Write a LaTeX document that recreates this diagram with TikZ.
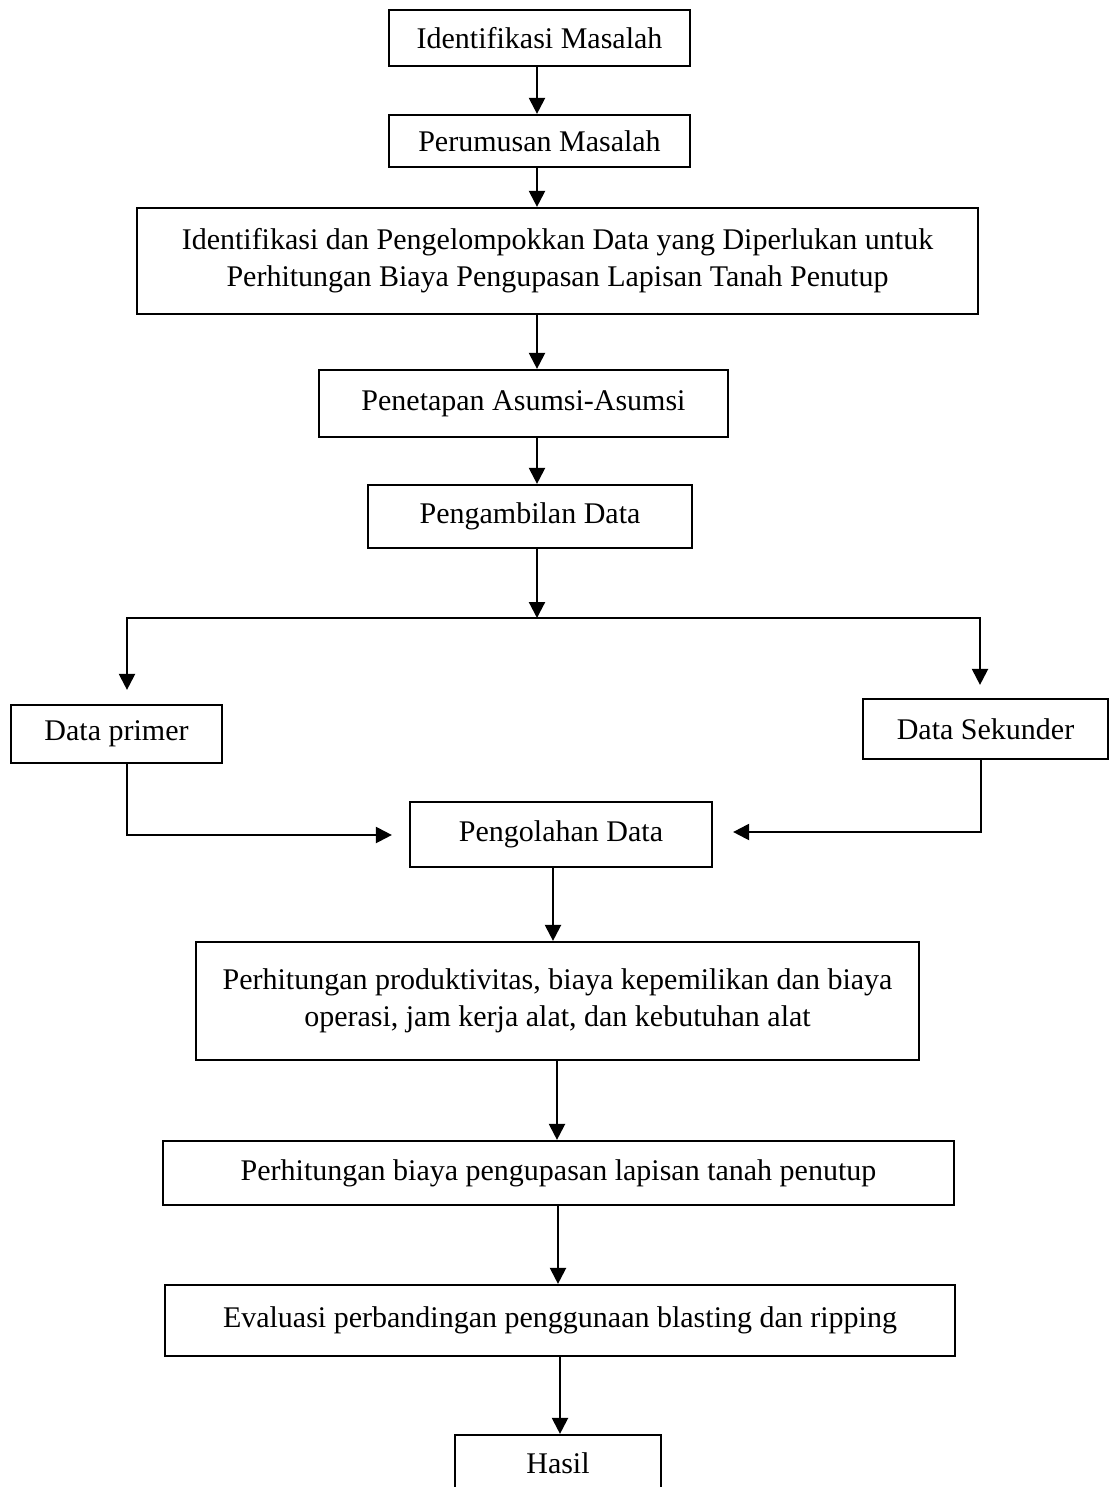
\documentclass[tikz,border=0pt]{standalone}
\usepackage{fontspec}
\setmainfont{Liberation Serif}
\usetikzlibrary{arrows.meta,calc}
\begin{document}
\begin{tikzpicture}[x=1pt,y=-1pt,
  box/.style={draw,line width=2.2pt,align=center,inner sep=0pt,font=\fontsize{30}{37}\selectfont},
  arr/.style={line width=2.2pt,-{Triangle[width=16pt,length=16pt]}},
  ln/.style={line width=2.2pt}]
\useasboundingbox (0,0) rectangle (1110,1487);
\clip (0,0) rectangle (1110,1487);
\fill[white] (0,0) rectangle (1110,1487);
% nodes
\node[box,minimum width=301pt,minimum height=56pt] (b1) at (539.5,38) {Identifikasi Masalah};
\node[box,minimum width=301pt,minimum height=52pt] (b2) at (539.5,141) {Perumusan Masalah};
\node[box,minimum width=841pt,minimum height=106pt] (b3) at (557.5,261) {Identifikasi dan Pengelompokkan Data yang Diperlukan untuk\\Perhitungan Biaya Pengupasan Lapisan Tanah Penutup};
\node[box,minimum width=409pt,minimum height=67pt] (b4) at (523.5,403.5) {Penetapan Asumsi-Asumsi};
\node[box,minimum width=324pt,minimum height=63pt] (b5) at (530,516.5) {Pengambilan Data};
\node[box,minimum width=211pt,minimum height=58pt] (b6) at (116.5,734) {Data primer};
\node[box,minimum width=245pt,minimum height=60pt] (b7) at (985.5,729) {Data Sekunder};
\node[box,minimum width=302pt,minimum height=65pt] (b8) at (561,834.5) {Pengolahan Data};
\node[box,minimum width=723pt,minimum height=118pt] (b9) at (557.5,1001) {Perhitungan produktivitas, biaya kepemilikan dan biaya\\operasi, jam kerja alat, dan kebutuhan alat};
\node[box,minimum width=791pt,minimum height=64pt] (b10) at (558.5,1173) {Perhitungan biaya pengupasan lapisan tanah penutup};
\node[box,minimum width=790pt,minimum height=71pt] (b11) at (560,1320.5) {Evaluasi perbandingan penggunaan blasting dan ripping};
\node[box,minimum width=206pt,minimum height=56pt] (b12) at (558,1463) {Hasil};
% helper coordinates
\coordinate (xa) at (537,0);
\coordinate (split) at (537,618);
\coordinate (sl) at (127,618);
\coordinate (sr) at (980,618);
\coordinate (pl) at (127,835);
\coordinate (pr) at (981,832);
% connectors
\draw[arr] (b1.south -| xa) -- (b2.north -| xa);
\draw[arr] (b2.south -| xa) -- (b3.north -| xa);
\draw[arr] (b3.south -| xa) -- (b4.north -| xa);
\draw[arr] (b4.south -| xa) -- (b5.north -| xa);
\draw[arr] (b5.south -| xa) -- (split);
\draw[ln,line cap=rect] (sl) -- (sr);
\draw[arr,shorten >=14pt] (sl) -- (b6.north -| sl);
\draw[arr,shorten >=13pt] (sr) -- (b7.north -| sr);
\draw[ln,line cap=rect] (b6.south -| pl) -- (pl);
\draw[arr,shorten >=17pt] (pl) -- (b8.west |- pl);
\draw[ln,line cap=rect] (b7.south -| pr) -- (pr);
\draw[arr,shorten >=20pt] (pr) -- (b8.east |- pr);
\coordinate (x9) at (553,0);
\coordinate (x10) at (557,0);
\coordinate (x11) at (558,0);
\coordinate (x12) at (560,0);
\draw[arr] (b8.south -| x9) -- (b9.north -| x9);
\draw[arr] (b9.south -| x10) -- (b10.north -| x10);
\draw[arr] (b10.south -| x11) -- (b11.north -| x11);
\draw[arr] (b11.south -| x12) -- (b12.north -| x12);
\end{tikzpicture}
\end{document}
